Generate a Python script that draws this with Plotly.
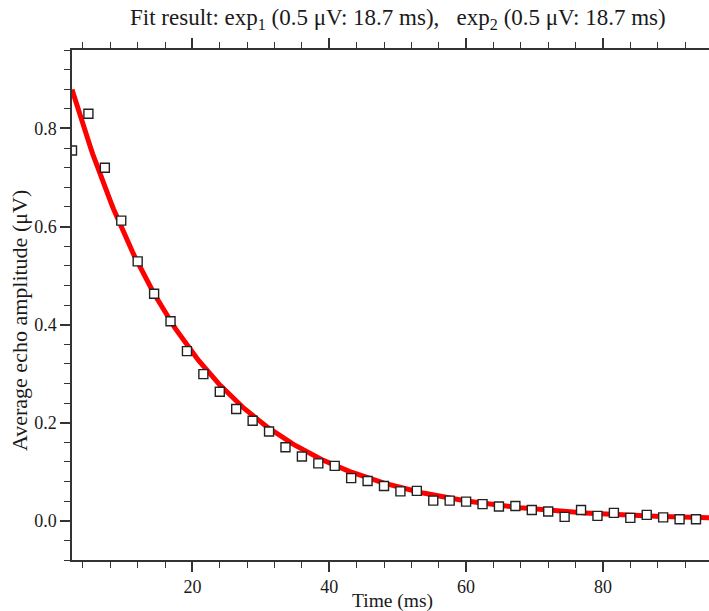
import numpy as np
import plotly.graph_objects as go

# Echo times (ms) and measured average echo amplitudes (µV)
echo_time = [2.4, 4.8, 7.2, 9.6, 12.0, 14.4, 16.8, 19.2, 21.6, 24.0,
             26.4, 28.8, 31.2, 33.6, 36.0, 38.4, 40.8, 43.2, 45.6, 48.0,
             50.4, 52.8, 55.2, 57.6, 60.0, 62.4, 64.8, 67.2, 69.6, 72.0,
             74.4, 76.8, 79.2, 81.6, 84.0, 86.4, 88.8, 91.2, 93.6]
amplitude = [0.755, 0.830, 0.720, 0.612, 0.529, 0.463, 0.407, 0.346, 0.299, 0.263,
             0.228, 0.204, 0.182, 0.150, 0.131, 0.117, 0.112, 0.087, 0.081, 0.071,
             0.060, 0.061, 0.041, 0.041, 0.039, 0.034, 0.029, 0.030, 0.022, 0.019,
             0.008, 0.022, 0.010, 0.016, 0.006, 0.012, 0.007, 0.003, 0.003]

# Fit result parameters (from title): two exponential components
fit_amp = [0.5, 0.5]      # µV
fit_tau = [18.7, 18.7]    # ms

x_range = [2.4, 95.5]
y_range = [-0.08, 0.96]

t_fit = np.linspace(x_range[0], x_range[1], 400)
y_fit = sum(a * np.exp(-t_fit / tau) for a, tau in zip(fit_amp, fit_tau))

font_family = "Liberation Serif, Times New Roman, serif"
axis_col = "#333333"
txt_col = "#1a1a1a"

fig = go.Figure()
fig.add_trace(go.Scatter(x=t_fit, y=y_fit, mode="lines",
                         line=dict(color="#ff0000", width=5), showlegend=False))
fig.add_trace(go.Scatter(x=echo_time, y=amplitude, mode="markers",
                         marker=dict(symbol="square", size=9, color="white",
                                     line=dict(color="#222222", width=1.4)),
                         showlegend=False, cliponaxis=True))

fig.update_layout(
    width=709, height=611,
    margin=dict(l=72, r=0, t=50, b=51),
    paper_bgcolor="white", plot_bgcolor="white",
    font=dict(family=font_family, color=txt_col),
    showlegend=False,
)
fig.update_xaxes(
    range=x_range, showgrid=False, zeroline=False,
    showline=True, linecolor=axis_col, linewidth=1.5, mirror="ticks",
    ticks="outside", ticklen=10, tickwidth=1.5, tickcolor=axis_col,
    tick0=0, dtick=20, tickfont=dict(size=18, family=font_family, color=txt_col),
    minor=dict(ticks="outside", ticklen=6, tickwidth=1.3, tickcolor=axis_col, dtick=4, tick0=0),
)
fig.update_yaxes(
    range=y_range, showgrid=False, zeroline=False,
    showline=True, linecolor=axis_col, linewidth=1.5, mirror=False,
    ticks="outside", ticklen=10, tickwidth=1.5, tickcolor=axis_col,
    tick0=0, dtick=0.2, tickformat=".1f",
    tickfont=dict(size=18, family=font_family, color=txt_col),
    minor=dict(ticks="outside", ticklen=6, tickwidth=1.3, tickcolor=axis_col, dtick=0.04, tick0=0),
)

pw = 709 - 72
ph = 611 - 50 - 51
fig.add_annotation(
    text="Fit result: exp<sub>1</sub> (0.5 μV: 18.7 ms),   exp<sub>2</sub> (0.5 μV: 18.7 ms)",
    xref="paper", yref="paper", x=(398 - 72) / pw, y=(561 - 20) / ph,
    yanchor="middle", xanchor="center", showarrow=False,
    font=dict(size=23, family=font_family, color=txt_col),
)
fig.add_annotation(
    text="Time (ms)", xref="paper", yref="paper",
    x=(392 - 72) / pw, y=-(602 - 561) / ph, xanchor="center", yanchor="middle",
    showarrow=False, font=dict(size=19.5, family=font_family, color=txt_col),
)
fig.add_annotation(
    text="Average echo amplitude (μV)", xref="paper", yref="paper",
    x=-(72 - 19) / pw, y=(561 - 322) / ph, xanchor="center", yanchor="middle",
    textangle=-90, showarrow=False,
    font=dict(size=22, family=font_family, color=txt_col),
)

fig.write_html("out.html")
